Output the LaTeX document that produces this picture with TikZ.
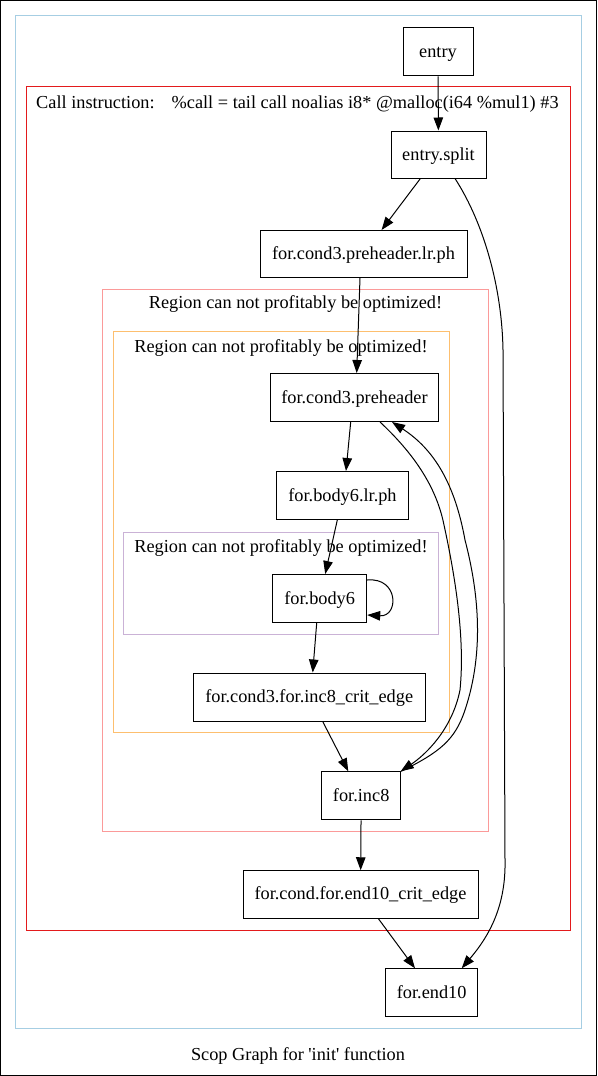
\documentclass[tikz,border=0pt]{standalone}
\usepackage{fontspec}
\setmainfont{Liberation Serif}
\usetikzlibrary{arrows.meta}
\definecolor{cblue}{HTML}{A6CEE3}
\definecolor{cred}{HTML}{E31A1C}
\definecolor{cpink}{HTML}{FB9A99}
\definecolor{corange}{HTML}{FDBF6F}
\definecolor{cpurple}{HTML}{CAB2D6}
\begin{document}
\begin{tikzpicture}[x=1pt,y=-1pt,
  font=\fontsize{18.3}{21}\selectfont,
  bb/.style={draw, line width=1pt, inner sep=0pt, text height=14pt, text depth=3pt, minimum height=48pt},
  cl/.style={line width=1pt},
  ed/.style={line width=1pt, -{Triangle[length=13pt,width=9.5pt]}},
  lab/.style={inner sep=0pt}]
\useasboundingbox (0,0) rectangle (597,1076);
\draw[line width=1pt] (0.5,0.5) rectangle (596.5,1075.5);
% clusters
\draw[cl, cblue] (15.5,15.5) rectangle (581,1028);
\draw[cl, cred] (26.5,86.5) rectangle (570.5,930);
\draw[cl, cpink] (102.5,289.5) rectangle (488.5,831);
\draw[cl, corange] (113,331) rectangle (449,732.5);
\draw[cl, cpurple] (123,532) rectangle (438.5,634);
% cluster labels
\node[lab, anchor=base west] (lcall) at (36,108) {Call instruction:\hspace{17pt}\%call = tail call noalias i8* @malloc(i64 \%mul1) \#3};
\node[lab, anchor=base] (lpink) at (295.5,308) {Region can not profitably be optimized!};
\node[lab, anchor=base] (lorange) at (281,352) {Region can not profitably be optimized!};
\node[lab, anchor=base] (lpurple) at (281,552) {Region can not profitably be optimized!};
\node[lab, anchor=base] (title) at (298,1060) {Scop Graph for \textquotesingle init\textquotesingle{} function};
% nodes
\node[bb, minimum width=70pt] (entry) at (438,51.8) {entry};
\node[bb, minimum width=95pt, minimum height=47pt] (split) at (438.5,154.5) {entry.split};
\node[bb, minimum width=207pt, minimum height=47pt] (lrph) at (363.5,254) {for.cond3.preheader.lr.ph};
\node[bb, minimum width=167.6pt] (pre) at (354.5,397.5) {for.cond3.preheader};
\node[bb, minimum width=131.6pt] (blrph) at (342.5,495.5) {for.body6.lr.ph};
\node[bb, minimum width=94pt] (body) at (319.7,598.5) {for.body6};
\node[bb, minimum width=231.7pt] (crit) at (309.2,697) {for.cond3.for.inc8\_crit\_edge};
\node[bb, minimum width=79pt] (inc) at (361.2,795.8) {for.inc8};
\node[bb, minimum width=235pt, minimum height=47.3pt] (ecrit) at (360.5,894.4) {for.cond.for.end10\_crit\_edge};
\node[bb, minimum width=92pt] (end) at (431.7,992.8) {for.end10};
% edges
\draw[ed] (entry) -- (split);
\draw[ed] (split) -- (lrph);
\draw[ed] ([xshift=-3.5pt]lrph.south) -- ([xshift=2.2pt]pre.north);
\draw[ed] ([xshift=-3.8pt]pre.south) -- ([xshift=3.5pt]blrph.north);
\draw[ed] ([xshift=-5.2pt]blrph.south) -- ([xshift=5.5pt]body.north);
\draw[ed] ([xshift=-3pt]body.south) -- ([xshift=3.5pt]crit.north);
\draw[ed] ([xshift=13.5pt]crit.south) -- ([xshift=-12.9pt]inc.north);
\draw[ed] (inc) -- (ecrit);
\draw[ed] ([xshift=17.8pt]ecrit.south) -- ([xshift=-16.7pt]end.north);
% self loop
\draw[ed] ([yshift=18.5pt]body.east) .. controls (399,577) and (399,617) .. ([yshift=-16.5pt]body.east);
% long edge entry.split -> for.end10
\draw[ed] ([xshift=16.5pt]split.south) .. controls (485,225) and (502,290) .. (503,350)
  -- (505,860) .. controls (506,905) and (490,935) .. ([xshift=30pt]end.north);
% for.cond3.preheader -> for.inc8
\draw[ed] ([xshift=25.5pt]pre.south) .. controls (412,452) and (436,485) .. (444,525)
  .. controls (456,580) and (465,640) .. (460,690)
  .. controls (452,730) and (425,755) .. ([xshift=-0.5pt]inc.north east);
% for.inc8 -> for.cond3.preheader
\draw[ed] (inc.north east) .. controls (440,752) and (455,740) .. (465,710)
  .. controls (485,650) and (478,590) .. (465,540)
  .. controls (455,485) and (435,450) .. ([xshift=37.5pt]pre.south);
\end{tikzpicture}
\end{document}
